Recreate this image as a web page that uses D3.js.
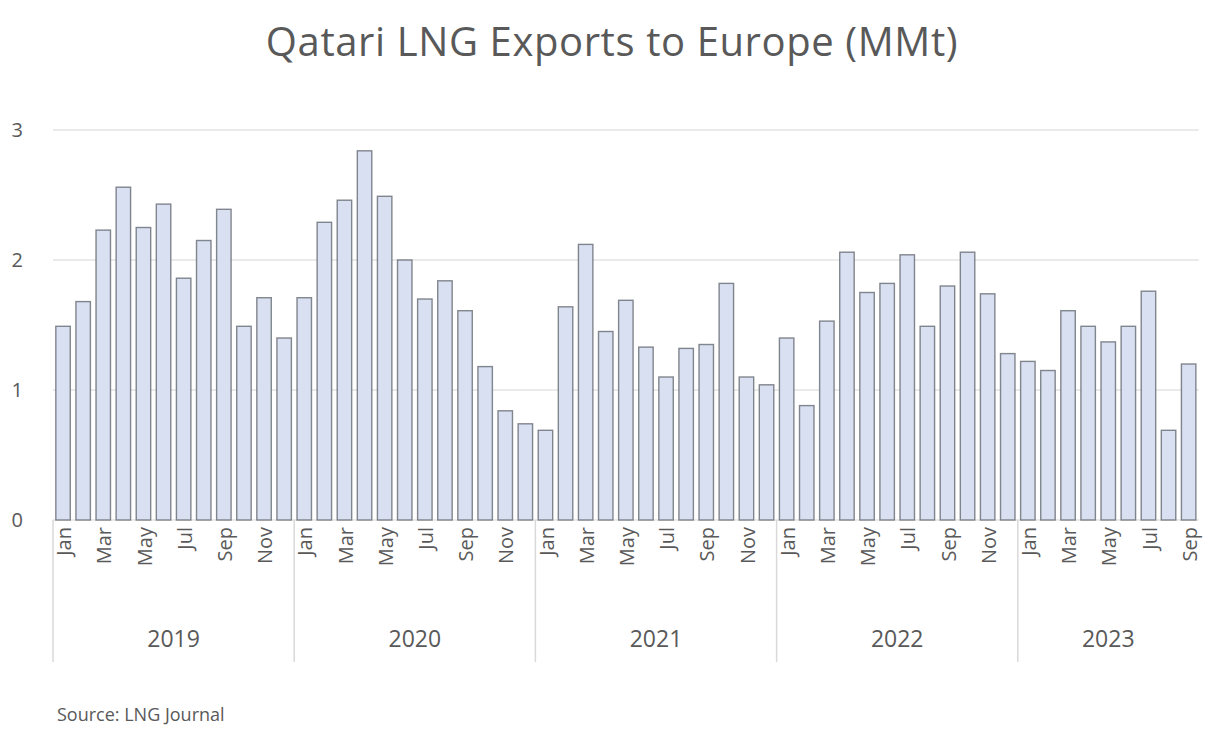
<!DOCTYPE html>
<html>
<head>
<meta charset="utf-8">
<script src="https://cdn.jsdelivr.net/npm/d3@7"></script>
<style>
  html, body { margin: 0; padding: 0; background: #fff; }
  svg { display: block; font-family: "Open Sans", "Noto Sans", sans-serif; }
</style>
</head>
<body>
<svg id="chart" width="1209" height="729"></svg>
<script>
// Monthly Qatari LNG exports to Europe, million tonnes
const years = ["2019", "2020", "2021", "2022", "2023"];
const monthNames = ["Jan", "Feb", "Mar", "Apr", "May", "Jun", "Jul", "Aug", "Sep", "Oct", "Nov", "Dec"];
const values2019 = [1.49, 1.68, 2.23, 2.56, 2.25, 2.43, 1.86, 2.15, 2.39, 1.49, 1.71, 1.40];
const values2020 = [1.71, 2.29, 2.46, 2.84, 2.49, 2.00, 1.70, 1.84, 1.61, 1.18, 0.84, 0.74];
const values2021 = [0.69, 1.64, 2.12, 1.45, 1.69, 1.33, 1.10, 1.32, 1.35, 1.82, 1.10, 1.04];
const values2022 = [1.40, 0.88, 1.53, 2.06, 1.75, 1.82, 2.04, 1.49, 1.80, 2.06, 1.74, 1.28];
const values2023 = [1.22, 1.15, 1.61, 1.49, 1.37, 1.49, 1.76, 0.69, 1.20];
const yTicks = [0, 1, 2, 3];

const seriesByYear = [values2019, values2020, values2021, values2022, values2023];
const rows = [];
seriesByYear.forEach((vals, yi) => {
  vals.forEach((v, mi) => rows.push({ year: years[yi], month: monthNames[mi], mi, value: v, key: years[yi] + "-" + mi }));
});

const svg = d3.select("#chart");
const textColor = "#595959";
const left = 53;
const step = 20.1;
const xEnd = left + rows.length * step;
const zeroY = 520;

const x = d3.scaleBand().domain(rows.map(d => d.key)).range([left, xEnd]).paddingInner(0.28).paddingOuter(0.14);
const y = d3.scaleLinear().domain([0, 3]).range([zeroY, 130]);

// Title
svg.append("text")
  .attr("x", 612).attr("y", 56)
  .attr("text-anchor", "middle")
  .attr("fill", textColor)
  .style("font-size", "40px")
  .style("letter-spacing", "0.6px")
  .text("Qatari LNG Exports to Europe (MMt)");

// Horizontal gridlines
svg.append("g").selectAll("line").data(yTicks).join("line")
  .attr("x1", left).attr("x2", xEnd)
  .attr("y1", d => y(d)).attr("y2", d => y(d))
  .attr("stroke", "#e3e3e3").attr("stroke-width", 1.5);

// Y axis labels
const yAxis = d3.axisLeft(y).tickValues(yTicks).tickSize(0).tickPadding(0).tickFormat(d3.format("d"));
const yg = svg.append("g").attr("transform", "translate(23,0)").call(yAxis);
yg.select(".domain").remove();
yg.selectAll("text").attr("fill", textColor).style("font-size", "20px").style("font-family", "'Open Sans', sans-serif");

// Bars
svg.append("g").selectAll("rect").data(rows).join("rect")
  .attr("x", d => x(d.key))
  .attr("width", x.bandwidth())
  .attr("y", d => y(d.value))
  .attr("height", d => zeroY - y(d.value))
  .attr("fill", "#d8e0f1")
  .attr("stroke", "#5d6169")
  .attr("stroke-opacity", 0.75)
  .attr("stroke-width", 1.4);

// Month labels (every other month), rotated
svg.append("g").selectAll("text").data(rows.filter(d => d.mi % 2 === 0)).join("text")
  .attr("transform", d => `translate(${x(d.key) + x.bandwidth() / 2 + 1},527) rotate(-90)`)
  .attr("text-anchor", "end")
  .attr("dy", "0.36em")
  .attr("fill", textColor)
  .style("font-size", "20px")
  .text(d => d.month);

// Year group separators and labels
const yearStart = yi => left + 12 * yi * step;
const sepXs = [0, 1, 2, 3, 4].map(yearStart);
svg.append("g").selectAll("line").data(sepXs).join("line")
  .attr("x1", d => d).attr("x2", d => d)
  .attr("y1", zeroY).attr("y2", 662)
  .attr("stroke", "#d9d9d9").attr("stroke-width", 1.5);

svg.append("g").selectAll("text").data(years).join("text")
  .attr("x", (d, i) => yearStart(i) + (seriesByYear[i].length * step) / 2)
  .attr("y", 647)
  .attr("text-anchor", "middle")
  .attr("fill", textColor)
  .style("font-size", "23px")
  .text(d => d);

// Source note
svg.append("text")
  .attr("x", 57).attr("y", 721)
  .attr("fill", textColor)
  .style("font-size", "18px")
  .text("Source: LNG Journal");
</script>
</body>
</html>
